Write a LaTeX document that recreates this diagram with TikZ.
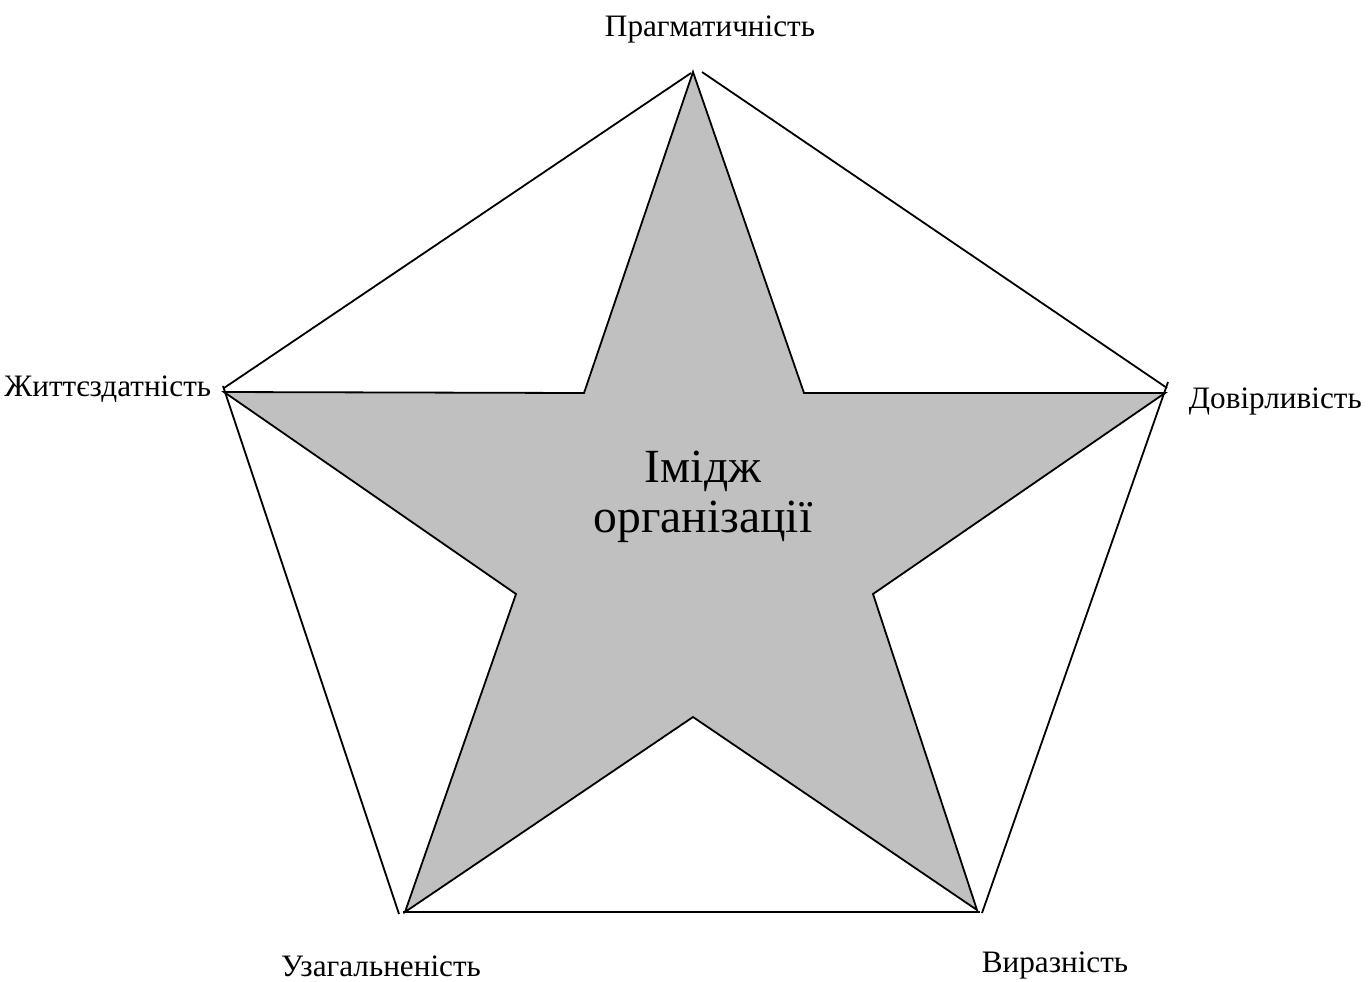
\documentclass[tikz,border=0pt]{standalone}
\usepackage{fontspec}
\setmainfont{Liberation Serif}
\usepackage{tikz}
\definecolor{stargray}{RGB}{192,192,192}
\tikzset{
  lbl/.style={inner sep=0pt,font=\fontsize{15.6}{18}\selectfont},
  title/.style={inner sep=0pt,align=center,font=\fontsize{23.8}{25}\selectfont}
}

\begin{document}
\begin{tikzpicture}[x=0.5pt,y=-0.5pt,line width=0.9pt]
  \useasboundingbox (0,0) rectangle (1368,981);
  % outer points of the star
  \coordinate (P) at (693,72);
  \coordinate (D) at (1165,393);
  \coordinate (V) at (977,910);
  \coordinate (U) at (405,912);
  \coordinate (Zh) at (224,392);
  % inner points
  \coordinate (iPD) at (804,393);
  \coordinate (iDV) at (873,594);
  \coordinate (iVU) at (693,717);
  \coordinate (iUZh) at (516,594);
  \coordinate (iZhP) at (584,393);
  \draw[fill=stargray] (P) -- (iPD) -- (D) -- (iDV) -- (V) -- (iVU) -- (U)
    -- (iUZh) -- (Zh) -- (iZhP) -- cycle;
  % pentagon
  \draw (224,388) -- (691,73);
  \draw (702,72) -- (1167,388);
  \draw (1168,382) -- (982,913);
  \draw (403,912) -- (980,912);
  \draw (223,386) -- (399,914);
  \node[lbl] (prag) at (710,29) {Прагматичність};
  \node[lbl,anchor=west] (dov) at (1188,401) {Довірливість};
  \node[lbl,anchor=east] (zhytt) at (212,389) {Життєздатність};
  \node[lbl] (uzag) at (381,966) {Узагальненість};
  \node[lbl] (vyr) at (1055,965) {Виразність};
  \node[title] (imidzh) at (703,497) {Імідж\\організації};
\end{tikzpicture}
\end{document}
